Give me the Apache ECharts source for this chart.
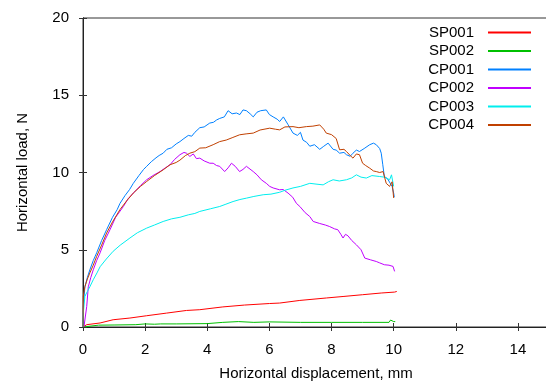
<!DOCTYPE html>
<html>
<head>
<meta charset="utf-8">
<script src="https://cdn.jsdelivr.net/npm/echarts@6/dist/echarts.min.js"></script>
<style>html,body{margin:0;padding:0;background:#fff}#c{width:546px;height:382px}</style>
</head>
<body>
<div id="c"></div>
<script>
const xTicks = [0, 2, 4, 6, 8, 10, 12, 14];
const yTicks = [0, 5, 10, 15, 20];
const seriesNames = ['SP001', 'SP002', 'CP001', 'CP002', 'CP003', 'CP004'];

const sp001 = [[0,0],[0.05,0.1],[0.12,0.15],[0.55,0.26],[0.97,0.47],[1.51,0.58],[2.05,0.73],[2.69,0.9],[3.33,1.07],[3.76,1.12],[4.5,1.3],[5.2,1.42],[6.0,1.52],[6.33,1.55],[6.98,1.72],[7.84,1.88],[8.4,1.98],[9.0,2.09],[9.6,2.2],[10.03,2.26],[10.1,2.3]];
const sp002 = [[0,0],[0.05,0.12],[0.5,0.12],[1.0,0.13],[1.7,0.15],[2.0,0.2],[2.3,0.18],[2.5,0.2],[3.0,0.2],[4.0,0.22],[4.5,0.3],[5.0,0.35],[5.5,0.3],[6.0,0.33],[7.0,0.3],[8.0,0.3],[9.0,0.3],[9.85,0.3],[9.9,0.45],[10.0,0.35],[10.05,0.35]];
const cp001 = [[0,0],[0.01,1.3],[0.06,2.6],[0.14,3.2],[0.22,3.7],[0.33,4.3],[0.44,4.8],[0.6,5.6],[0.76,6.3],[0.95,7.1],[1.1,7.6],[1.19,8.0],[1.35,8.5],[1.5,8.9],[1.62,9.3],[1.8,9.8],[1.95,10.2],[2.05,10.4],[2.2,10.7],[2.35,10.95],[2.45,11.1],[2.58,11.25],[2.7,11.5],[2.85,11.6],[3.0,11.85],[3.12,12.0],[3.25,12.2],[3.39,12.4],[3.5,12.35],[3.6,12.6],[3.76,12.9],[3.9,12.95],[4.08,13.2],[4.2,13.25],[4.3,13.4],[4.4,13.5],[4.55,13.6],[4.67,14.0],[4.8,13.8],[4.94,13.85],[5.05,13.75],[5.15,14.05],[5.26,14.0],[5.38,13.8],[5.48,13.6],[5.6,13.9],[5.72,14.0],[5.9,14.05],[6.0,13.75],[6.12,13.6],[6.25,13.45],[6.33,13.3],[6.45,13.6],[6.5,13.7],[6.6,13.1],[6.76,12.55],[6.9,12.4],[7.0,12.6],[7.08,12.1],[7.2,11.95],[7.3,11.7],[7.45,11.8],[7.62,11.5],[7.75,11.7],[7.89,11.9],[8.05,11.5],[8.15,11.45],[8.26,11.25],[8.4,11.3],[8.48,11.15],[8.6,11.05],[8.69,11.25],[8.8,11.45],[8.9,11.36],[9.05,11.55],[9.23,11.8],[9.35,11.9],[9.44,11.8],[9.55,11.55],[9.6,11.25],[9.65,10.5],[9.7,9.74],[9.8,9.6],[9.86,9.53],[9.95,9.1],[10.0,8.67],[10.02,8.4]];
const cp002 = [[0.03,0],[0.06,0.04],[0.12,1.33],[0.17,2.6],[0.25,3.2],[0.33,3.7],[0.44,4.3],[0.55,4.8],[0.7,5.6],[0.87,6.3],[1.05,7.1],[1.3,7.8],[1.45,8.3],[1.62,8.67],[1.85,9.15],[2.05,9.53],[2.25,9.8],[2.48,10.06],[2.65,10.3],[2.8,10.5],[2.95,10.85],[3.12,11.15],[3.25,11.3],[3.33,11.25],[3.44,11.04],[3.55,11.2],[3.65,10.9],[3.76,10.93],[3.9,10.75],[4.08,10.6],[4.19,10.6],[4.3,10.45],[4.4,10.4],[4.56,10.06],[4.67,10.3],[4.78,10.6],[4.9,10.4],[5.04,10.06],[5.15,10.2],[5.26,10.4],[5.31,10.4],[5.48,10.06],[5.6,9.85],[5.74,9.53],[5.9,9.3],[6.01,9.1],[6.12,9.0],[6.33,8.88],[6.44,8.9],[6.6,8.67],[6.75,8.4],[6.87,8.0],[6.98,7.8],[7.15,7.4],[7.3,7.15],[7.41,6.83],[7.62,6.7],[7.8,6.6],[7.94,6.5],[8.1,6.35],[8.2,6.3],[8.3,6.0],[8.37,5.76],[8.45,6.0],[8.53,5.9],[8.65,5.6],[8.8,5.32],[8.95,5.0],[9.07,4.46],[9.25,4.35],[9.44,4.24],[9.55,4.15],[9.7,4.03],[9.85,4.0],[9.98,3.92],[10.03,3.6]];
const cp003 = [[0,0],[0.01,0.9],[0.06,1.98],[0.14,2.3],[0.22,2.6],[0.33,3.06],[0.45,3.5],[0.55,3.9],[0.75,4.4],[0.97,4.9],[1.2,5.3],[1.51,5.76],[1.75,6.1],[2.05,6.4],[2.3,6.6],[2.58,6.83],[2.85,7.0],[3.12,7.1],[3.39,7.26],[3.6,7.35],[3.76,7.48],[4.1,7.65],[4.4,7.8],[4.6,7.95],[4.83,8.12],[5.05,8.25],[5.26,8.34],[5.5,8.45],[5.8,8.56],[6.05,8.6],[6.33,8.72],[6.5,8.85],[6.76,9.0],[7.0,9.1],[7.3,9.3],[7.5,9.25],[7.73,9.2],[7.9,9.4],[8.05,9.53],[8.25,9.45],[8.48,9.53],[8.65,9.65],[8.8,9.85],[8.95,9.7],[9.12,9.64],[9.3,9.8],[9.55,9.74],[9.7,9.7],[9.87,9.53],[9.93,9.85],[9.98,9.9],[10.0,9.1]];
const cp004 = [[0,0],[0.01,2.0],[0.06,2.6],[0.14,3.1],[0.22,3.5],[0.33,4.0],[0.44,4.57],[0.6,5.3],[0.76,6.08],[0.95,6.8],[1.19,7.6],[1.4,8.15],[1.62,8.67],[1.85,9.1],[2.05,9.42],[2.3,9.8],[2.58,10.17],[2.8,10.5],[3.0,10.65],[3.12,10.8],[3.3,11.1],[3.44,11.25],[3.6,11.35],[3.76,11.58],[3.95,11.6],[4.19,11.8],[4.4,12.0],[4.61,12.1],[4.8,12.25],[5.04,12.44],[5.25,12.5],[5.48,12.55],[5.7,12.75],[6.01,12.87],[6.2,12.8],[6.33,12.76],[6.5,12.95],[6.76,12.97],[6.95,12.9],[7.19,12.97],[7.4,13.0],[7.62,13.08],[7.75,12.8],[7.83,12.55],[8.0,12.45],[8.15,12.2],[8.26,11.47],[8.4,11.5],[8.48,11.36],[8.6,11.1],[8.69,10.93],[8.8,11.2],[8.9,11.15],[9.0,10.6],[9.1,10.45],[9.23,10.28],[9.35,10.1],[9.44,10.06],[9.55,10.0],[9.66,10.06],[9.76,9.3],[9.87,9.1],[9.95,9.4],[10.0,8.35]];

const seriesData = [sp001, sp002, cp001, cp002, cp003, cp004];
const colors = ['#ff0000', '#00c000', '#0080ff', '#c000ff', '#00eeee', '#c04000'];
const FONT = 'Liberation Sans, Arial, sans-serif';

const chart = echarts.init(document.getElementById('c'), null, {renderer: 'canvas'});
const axisCommon = {
  axisLine: {show: true, lineStyle: {color: '#222', width: 1}},
  splitLine: {show: false},
};
chart.setOption({
  animation: false,
  backgroundColor: '#fff',
  grid: {left: 83, top: 18, width: 466, height: 309, outerBoundsMode: 'none', containLabel: false, show: true, borderColor: '#333', borderWidth: 1, backgroundColor: 'transparent'},
  legend: {
    orient: 'vertical', right: 9, top: 20,
    align: 'right',
    itemWidth: 43, itemHeight: 14, itemGap: 3.5,
    itemStyle: {opacity: 0},
    textStyle: {fontFamily: FONT, fontSize: 15, color: '#000', padding: [0, 9, 0, 0]},
    data: seriesNames
  },
  xAxis: [{
    type: 'value', min: 0, max: 15, interval: 2, position: 'bottom',
    ...axisCommon,
    axisTick: {show: true, inside: true, length: 4, lineStyle: {color: '#333'}, customValues: xTicks},
    axisLabel: {fontFamily: FONT, fontSize: 15, color: '#000', margin: 15, customValues: xTicks},
    name: 'Horizontal displacement, mm', nameLocation: 'middle', nameGap: 39,
    nameTextStyle: {fontFamily: FONT, fontSize: 15, color: '#000'}
  }, {
    type: 'value', min: 0, max: 15, interval: 2, position: 'top',
    ...axisCommon,
    axisTick: {show: true, inside: true, length: 4, lineStyle: {color: '#333'}, customValues: xTicks},
    axisLabel: {show: false}
  }],
  yAxis: [{
    type: 'value', min: 0, max: 20, interval: 5, position: 'left',
    ...axisCommon,
    axisTick: {show: true, inside: true, length: 4, lineStyle: {color: '#333'}, customValues: yTicks},
    axisLabel: {fontFamily: FONT, fontSize: 15, color: '#000', margin: 14, customValues: yTicks},
    name: 'Horizontal load, N', nameLocation: 'middle', nameGap: 53, nameRotate: 90,
    nameTextStyle: {fontFamily: FONT, fontSize: 15, color: '#000'}
  }, {
    type: 'value', min: 0, max: 20, interval: 5, position: 'right',
    ...axisCommon,
    axisTick: {show: true, inside: true, length: 4, lineStyle: {color: '#333'}, customValues: yTicks},
    axisLabel: {show: false}
  }],
  series: seriesNames.map((n, i) => ({
    name: n, type: 'line', data: seriesData[i], symbol: 'none', showSymbol: false,
    xAxisIndex: 0, yAxisIndex: 0,
    lineStyle: {color: colors[i], width: 1}, itemStyle: {color: colors[i]},
    emphasis: {disabled: true}
  }))
});
</script>
</body>
</html>
